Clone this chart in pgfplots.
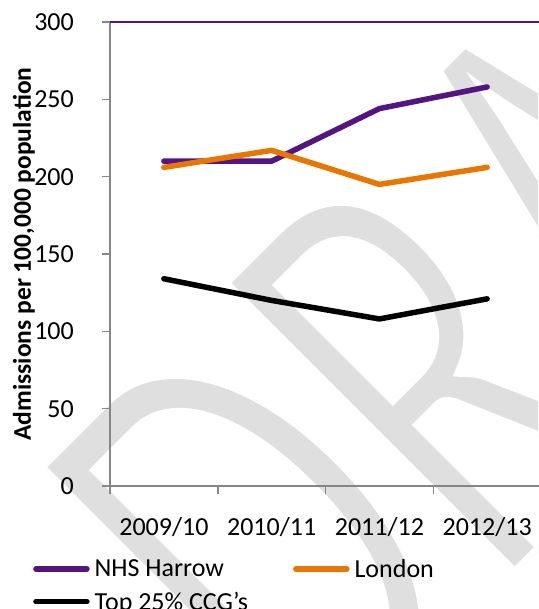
\documentclass[border=0pt]{standalone}
\usepackage{fontspec}
\setmainfont{Carlito}
\newfontfamily\wmfont{Carlito}
\usepackage{pgfplots}
\pgfplotsset{compat=1.18}
\definecolor{harrow}{RGB}{84,20,130}
\definecolor{london}{RGB}{232,118,0}
\definecolor{wm}{RGB}{223,223,223}
\definecolor{axgray}{RGB}{134,134,134}
\newcommand\fs{\fontsize{26}{31}\selectfont}
\begin{document}
\begin{tikzpicture}
\useasboundingbox (-110pt,-123pt) rectangle (428pt,486pt);
\begin{scope}
\clip (-110pt,-123pt) rectangle (428pt,486pt);
\node[anchor=base west, inner sep=0pt, rotate=45, yscale=1.54, text=wm, font=\wmfont\fontsize{421}{421}\selectfont] at (202pt,-294pt) {\special{pdf:literal direct 2 Tr 1 1 1 RG 10 w}DRAFT\special{pdf:literal direct 0 Tr}};
\end{scope}
\begin{axis}[
  at={(0pt,0pt)}, anchor=south west,
  scale only axis, width=431pt, height=464pt,
  xmin=-0.5, xmax=3.5, ymin=0, ymax=300,
  ytick={0,50,100,150,200,250,300},
  xtick={-0.5,0.5,1.5,2.5,3.5},
  x tick label as interval,
  xticklabels={2009/10,2010/11,2011/12,2012/13},
  axis x line*=bottom, axis y line*=left,
  axis line style={draw=axgray, line width=1.5pt},
  every tick/.style={draw=axgray, line width=1.5pt},
  tick align=outside, major tick length=8pt,
  /pgf/number format/assume math mode=true,
  every tick label/.append style={font=\fs},
  yticklabel style={anchor=east, inner sep=0pt, xshift=-28pt},
  xticklabel style={anchor=base, inner sep=0pt, yshift=-41pt},
  ylabel={Admissions per 100,000 population},
  every axis y label/.style={at={(axis description cs:-0.1833,0.5)}, rotate=90, anchor=base, font=\bfseries\fontsize{25.5}{30}\selectfont},
  legend columns=2,
  legend cell align=left,
  legend style={draw=none, fill=none, at={(axis description cs:-0.1787,-0.1573)}, anchor=north west, inner sep=0pt, font=\fs,
    nodes={inner sep=0pt},
    /tikz/column 1/.style={column sep=5pt},
    /tikz/column 2/.style={column sep=45pt},
    /tikz/column 3/.style={column sep=5pt},
    row sep=13pt},
  legend image code/.code={\draw[#1, line cap=round] (0pt,0pt) -- (51pt,0pt);},
  clip=false,
]
\addplot[harrow, line width=5.5pt, line cap=round, line join=round] coordinates {(0,210) (1,210) (2,244) (3,258)};
\addlegendentry{NHS Harrow}
\addplot[london, line width=5.5pt, line cap=round, line join=round] coordinates {(0,206) (1,217) (2,195) (3,206)};
\addlegendentry{London}
\addplot[black, line width=5.5pt, line cap=round, line join=round] coordinates {(0,134) (1,120) (2,108) (3,121)};
\addlegendentry{Top 25\% CCG's}
\draw[harrow, line width=2pt] (rel axis cs:0,1) -- (rel axis cs:1,1);
\end{axis}
\end{tikzpicture}
\end{document}
